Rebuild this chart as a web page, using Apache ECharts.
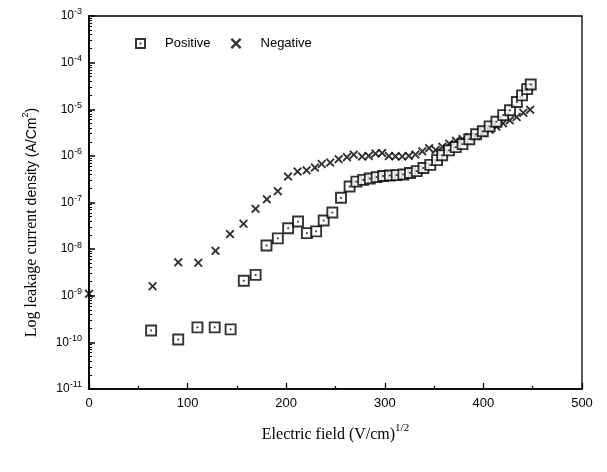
<!DOCTYPE html>
<html>
<head>
<meta charset="utf-8">
<script src="https://cdn.jsdelivr.net/npm/echarts@6/dist/echarts.min.js"></script>
<style>
html,body{margin:0;padding:0;background:#fff;}
#chart{width:607px;height:472px;}
</style>
</head>
<body>
<div id="chart"></div>
<script>
// Electric field (V/cm)^1/2
const posX = [63,90.5,110,127.5,143.6,157,169,180,191.5,202,212,221,230.4,238,246.8,255.6,264.3,271.2,278.1,284.8,291.7,298.4,305.1,312,318.8,325.5,332.4,339.2,346.1,353,358.2,365.1,371.9,378.8,385.7,392.6,399.4,406.3,413.2,420.1,427,433.9,439.2,444.4,448];
const posY = [1.8e-10,1.15e-10,2.1e-10,2.1e-10,1.9e-10,2.1e-9,2.8e-9,1.2e-8,1.7e-8,2.8e-8,3.9e-8,2.2e-8,2.4e-8,4.1e-8,6.1e-8,1.26e-7,2.2e-7,2.8e-7,3.05e-7,3.27e-7,3.5e-7,3.7e-7,3.8e-7,3.86e-7,4e-7,4.3e-7,4.7e-7,5.5e-7,6.4e-7,8.1e-7,1.03e-6,1.31e-6,1.54e-6,1.79e-6,2.28e-6,2.9e-6,3.37e-6,4.3e-6,5.4e-6,7.5e-6,9.5e-6,1.43e-5,1.98e-5,2.7e-5,3.4e-5];
const negX = [0,64.5,90.5,110.8,128.3,143,156.7,168.9,180.4,191.5,201.9,211.5,220.7,229.1,236,244.6,253.2,261.6,268.5,276.9,283.7,290.5,297.3,304.1,310.8,317.6,324.4,331.1,338,344.9,351.6,358.4,365.3,372.1,378.9,385.7,392.5,399.4,406.3,413.2,419.9,426.8,433.7,440.5,447.4];
const negY = [1.1e-9,1.6e-9,5.2e-9,5.1e-9,9.2e-9,2.1e-8,3.5e-8,7.3e-8,1.17e-7,1.75e-7,3.6e-7,4.6e-7,4.9e-7,5.6e-7,6.7e-7,7.2e-7,8.5e-7,9.4e-7,1.06e-6,9.7e-7,1e-6,1.12e-6,1.15e-6,9.9e-7,9.8e-7,9.7e-7,1e-6,1.07e-6,1.25e-6,1.46e-6,1.33e-6,1.56e-6,1.83e-6,2.1e-6,2.3e-6,2.5e-6,2.66e-6,3.1e-6,3.65e-6,4.25e-6,5e-6,5.8e-6,6.8e-6,8.4e-6,9.8e-6];
const seriesNames = ['Positive','Negative'];
const xTicks = [0,100,200,300,400,500];

const pairs = (xs, ys) => xs.map((x, i) => [x, ys[i]]);
const sqIcon = 'path://M0,0H10V10H0Z M1.8,1.8V8.2H8.2V1.8Z M4.2,4.2H5.8V5.8H4.2Z';
const xIcon = 'path://M0,1.5L1.5,0L5,3.5L8.5,0L10,1.5L6.5,5L10,8.5L8.5,10L5,6.5L1.5,10L0,8.5L3.5,5Z';
const sans = '"Liberation Sans", Arial, sans-serif';
const serif = '"Liberation Serif", "Times New Roman", serif';

const chart = echarts.init(document.getElementById('chart'), null, {renderer: 'canvas'});
chart.setOption({
  animation: false,
  backgroundColor: '#fff',
  grid: {left: 89, right: 25, top: 16, bottom: 83, show: true, borderColor: '#000', borderWidth: 1.3, backgroundColor: 'transparent'},
  legend: {
    left: 130, top: 32, itemWidth: 11, itemHeight: 11, itemGap: 20,
    textStyle: {fontFamily: sans, fontSize: 13, color: '#000', padding: [0, 0, 0, 14]},
    data: [
      {name: seriesNames[0], icon: sqIcon, itemStyle: {color: '#000', borderWidth: 0}},
      {name: seriesNames[1], icon: xIcon, itemStyle: {color: '#000', borderWidth: 0}}
    ]
  },
  xAxis: {
    type: 'value', min: xTicks[0], max: xTicks[xTicks.length - 1], interval: 100,
    name: '{t|Electric field (V/cm)}{s|1/2}', nameLocation: 'middle', nameGap: 34,
    nameTextStyle: {rich: {
      t: {fontFamily: serif, fontSize: 16, color: '#000', lineHeight: 23},
      s: {fontFamily: serif, fontSize: 11, color: '#000', verticalAlign: 'top'}
    }},
    axisLine: {show: true, lineStyle: {color: '#000', width: 1.5}},
    axisTick: {show: true, inside: true, length: 6, lineStyle: {color: '#000', width: 1.3}},
    minorTick: {show: true, splitNumber: 2, length: 3, lineStyle: {color: '#000', width: 1.2}},
    axisLabel: {margin: 8, fontFamily: sans, fontSize: 13, color: '#000'},
    splitLine: {show: false}
  },
  yAxis: {
    type: 'log', logBase: 10, min: 1e-11, max: 1e-3,
    name: '{a|Log leakage current}{b| density (A/Cm}{s|2}{b|)}', nameLocation: 'middle', nameGap: 46, nameRotate: 90,
    nameTextStyle: {padding: [0, 40, 0, 0], rich: {
      a: {fontFamily: serif, fontSize: 16, color: '#000', lineHeight: 22},
      b: {fontFamily: sans, fontSize: 14, color: '#000', lineHeight: 22},
      s: {fontFamily: sans, fontSize: 9, color: '#000', verticalAlign: 'top'}
    }},
    axisLine: {show: true, lineStyle: {color: '#000', width: 1.8}},
    axisTick: {show: true, inside: true, length: 6, lineStyle: {color: '#000', width: 1.5}},
    minorTick: {show: true, splitNumber: 9, length: 3, lineStyle: {color: '#000', width: 1}},
    axisLabel: {
      margin: 7,
      formatter: v => '{b|10}{s|' + Math.round(Math.log10(v)) + '}',
      rich: {
        b: {fontFamily: sans, fontSize: 12, color: '#000', lineHeight: 17},
        s: {fontFamily: sans, fontSize: 9, color: '#000', verticalAlign: 'top'}
      }
    },
    splitLine: {show: false}
  },
  series: [
    {
      name: seriesNames[1], type: 'scatter', data: pairs(negX, negY),
      symbol: xIcon, symbolSize: 9,
      itemStyle: {color: '#000', borderWidth: 0}, z: 2
    },
    {
      name: seriesNames[0], type: 'scatter', data: pairs(posX, posY),
      symbol: 'rect', symbolSize: 10,
      itemStyle: {color: '#fff', borderColor: '#000', borderWidth: 1.9}, z: 3
    },
    {
      name: seriesNames[0], type: 'scatter', data: pairs(posX, posY),
      symbol: 'rect', symbolSize: 1.8,
      itemStyle: {color: '#000', borderWidth: 0}, z: 4, silent: true
    }
  ]
});
</script>
</body>
</html>
